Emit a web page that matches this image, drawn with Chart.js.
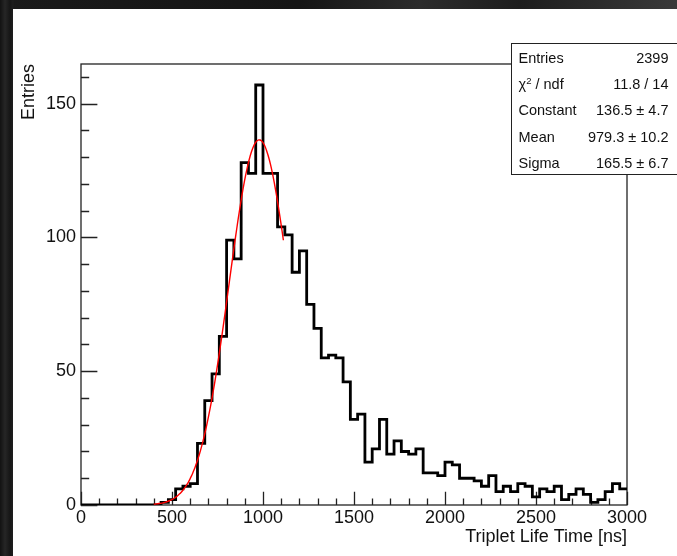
<!DOCTYPE html>
<html>
<head>
<meta charset="utf-8">
<script src="https://cdn.jsdelivr.net/npm/chart.js@4.4.1/dist/chart.umd.min.js"></script>
<style>
  html, body { margin: 0; padding: 0; width: 677px; height: 556px; overflow: hidden; }
  body {
    background:
      linear-gradient(90deg, #121212 0px, #262626 5px, #161616 10px, #1e1e1e 13px, rgba(0,0,0,0) 14px),
      linear-gradient(90deg, #1a1a1a 0px, #151515 300px, #2c2c2c 420px, #1d1d1d 520px, #3a3a3a 677px);
  }
  #pad { position: absolute; left: 13px; top: 9px; width: 664px; height: 547px; background: #fff; overflow: hidden; }
  #pad canvas { position: absolute; left: 0; top: 0; }
  #stats {
    position: absolute; left: 498px; top: 34px; width: 175px; height: 130px;
    border: 1.5px solid #222; background: #fff;
    font-family: "Liberation Sans", Arial, Helvetica, sans-serif; font-size: 14.5px; color: #111;
  }
  #stats .row { position: absolute; left: 6.5px; width: 150px; height: 26px; line-height: 26px;
    display: flex; justify-content: space-between; white-space: nowrap; }
  #stats sup { font-size: 9.5px; line-height: 0; vertical-align: 5px; }
</style>
</head>
<body>
<div id="pad">
  <canvas id="c" width="664" height="547" style="width:664px;height:547px"></canvas>
  <div id="stats"></div>
</div>
<script>
// Histogram: triplet life time, 75 bins of 40 ns between 0 and 3000 ns
const X_MIN = 0;
const X_MAX = 3000;
const BIN_WIDTH = 40;
const COUNTS = [
  0, 0, 0, 0, 0, 0, 0, 0, 0, 0,
  0, 1, 2, 6, 7, 8, 23, 39, 49, 63,
  99, 92, 128, 124, 157, 124, 124, 104, 101, 87,
  95, 75, 66, 55, 56, 55, 46, 32, 34, 16,
  21, 32, 19, 24, 20, 19, 21, 12, 12, 11,
  16, 15, 10, 10, 9, 7, 11, 5, 7, 5,
  8, 7, 3, 6, 5, 7, 2, 4, 6, 4,
  1, 2, 5, 8, 6
];
const Y_MAX = 164.85;
const X_TICKS = [0, 500, 1000, 1500, 2000, 2500, 3000];
const Y_TICKS = [0, 50, 100, 150];
const X_MINOR_STEP = 100;
const Y_MINOR_STEP = 10;

// Gaussian fit result
const FIT_CONSTANT = 136.5;
const FIT_MEAN = 979.3;
const FIT_SIGMA = 165.5;
const FIT_RANGE = [400, 1112];
const FIT_NPX = 100;

// Statistics box
const STAT_LABELS = ['Entries', 'χ2 / ndf', 'Constant', 'Mean', 'Sigma'];
const STAT_VALUES = ['2399', '11.8 / 14', '136.5 ± 4.7', '979.3 ± 10.2', '165.5 ± 6.7'];

const FONT = '"Liberation Sans", Arial, Helvetica, sans-serif';

const histPoints = COUNTS.map((c, i) => ({ x: X_MIN + i * BIN_WIDTH, y: c }));
histPoints.push({ x: X_MAX, y: COUNTS[COUNTS.length - 1] });

const fitPoints = [];
for (let k = 0; k <= FIT_NPX; k++) {
  const x = FIT_RANGE[0] + (FIT_RANGE[1] - FIT_RANGE[0]) * k / FIT_NPX;
  const z = (x - FIT_MEAN) / FIT_SIGMA;
  fitPoints.push({ x, y: FIT_CONSTANT * Math.exp(-0.5 * z * z) });
}

// Frame and inward tick marks, placed through the chart scales
const frameTicks = {
  id: 'frameTicks',
  beforeDatasetsDraw(chart) {
    const { ctx, chartArea: a, scales: { x, y } } = chart;
    ctx.save();
    ctx.strokeStyle = '#222';
    ctx.lineWidth = 1.3;
    ctx.strokeRect(a.left, a.top, a.right - a.left, a.bottom - a.top);
    const yMajor = 0.03 * (a.right - a.left);
    const xMajor = 0.03 * (a.bottom - a.top);
    ctx.beginPath();
    for (let v = 0; v <= Y_MAX; v += Y_MINOR_STEP) {
      const py = Math.round(y.getPixelForValue(v)) + 0.5;
      const len = Y_TICKS.includes(v) ? yMajor : yMajor / 2;
      ctx.moveTo(a.left, py);
      ctx.lineTo(a.left + len, py);
    }
    for (let v = X_MIN; v <= X_MAX; v += X_MINOR_STEP) {
      const px = Math.round(x.getPixelForValue(v)) + 0.5;
      const len = X_TICKS.includes(v) ? xMajor : xMajor / 2;
      ctx.moveTo(px, a.bottom);
      ctx.lineTo(px, a.bottom - len);
    }
    ctx.stroke();
    ctx.restore();
  }
};

new Chart(document.getElementById('c'), {
  type: 'line',
  data: {
    datasets: [
      {
        label: 'gaus',
        data: fitPoints,
        borderColor: '#ff0000',
        borderWidth: 1.4,
        pointRadius: 0,
        tension: 0.4,
        cubicInterpolationMode: 'monotone',
        fill: false,
        order: 0
      },
      {
        label: 'Triplet Life Time',
        data: histPoints,
        borderColor: '#000000',
        borderWidth: 2.8,
        pointRadius: 0,
        stepped: 'before',
        fill: false,
        order: 1
      }
    ]
  },
  options: {
    responsive: false,
    animation: false,
    devicePixelRatio: 1,
    events: [],
    layout: { padding: { left: 0, top: 55, right: 50, bottom: 0 } },
    plugins: { legend: { display: false }, tooltip: { enabled: false } },
    scales: {
      x: {
        type: 'linear',
        min: X_MIN,
        max: X_MAX,
        grid: { display: false, drawTicks: false },
        border: { display: false },
        ticks: {
          font: { family: FONT, size: 18 }, color: '#111', padding: 2, maxRotation: 0, autoSkip: false,
          callback: v => String(v)
        },
        afterBuildTicks: s => { s.ticks = X_TICKS.map(v => ({ value: v })); },
        afterFit: s => { s.height = 51; s.paddingLeft = 0; s.paddingRight = 0; },
        title: {
          display: true, text: 'Triplet Life Time [ns]', align: 'end', color: '#111',
          font: { family: FONT, size: 18 }, padding: { top: 0, bottom: 8 }
        }
      },
      y: {
        type: 'linear',
        min: 0,
        max: Y_MAX,
        grid: { display: false, drawTicks: false },
        border: { display: false },
        ticks: {
          font: { family: FONT, size: 18 }, color: '#111', padding: 5, autoSkip: false,
          callback: v => String(v)
        },
        afterBuildTicks: s => { s.ticks = Y_TICKS.map(v => ({ value: v })); },
        afterFit: s => { s.width = 68; s.paddingTop = 0; s.paddingBottom = 0; },
        title: {
          display: true, text: 'Entries', align: 'end', color: '#111',
          font: { family: FONT, size: 18 }, padding: { top: 5, bottom: 0 }
        }
      }
    }
  },
  plugins: [frameTicks]
});

// Statistics box rows
const stats = document.getElementById('stats');
STAT_LABELS.forEach((lab, i) => {
  const row = document.createElement('div');
  row.className = 'row';
  row.style.top = (0.5 + i * 26.4) + 'px';
  const l = document.createElement('span');
  if (lab.startsWith('χ2')) {
    l.append('χ');
    const s = document.createElement('sup');
    s.textContent = '2';
    l.append(s);
    l.append(lab.slice(2));
  } else {
    l.textContent = lab;
  }
  const v = document.createElement('span');
  v.textContent = STAT_VALUES[i];
  row.append(l, v);
  stats.append(row);
});
</script>
</body>
</html>
